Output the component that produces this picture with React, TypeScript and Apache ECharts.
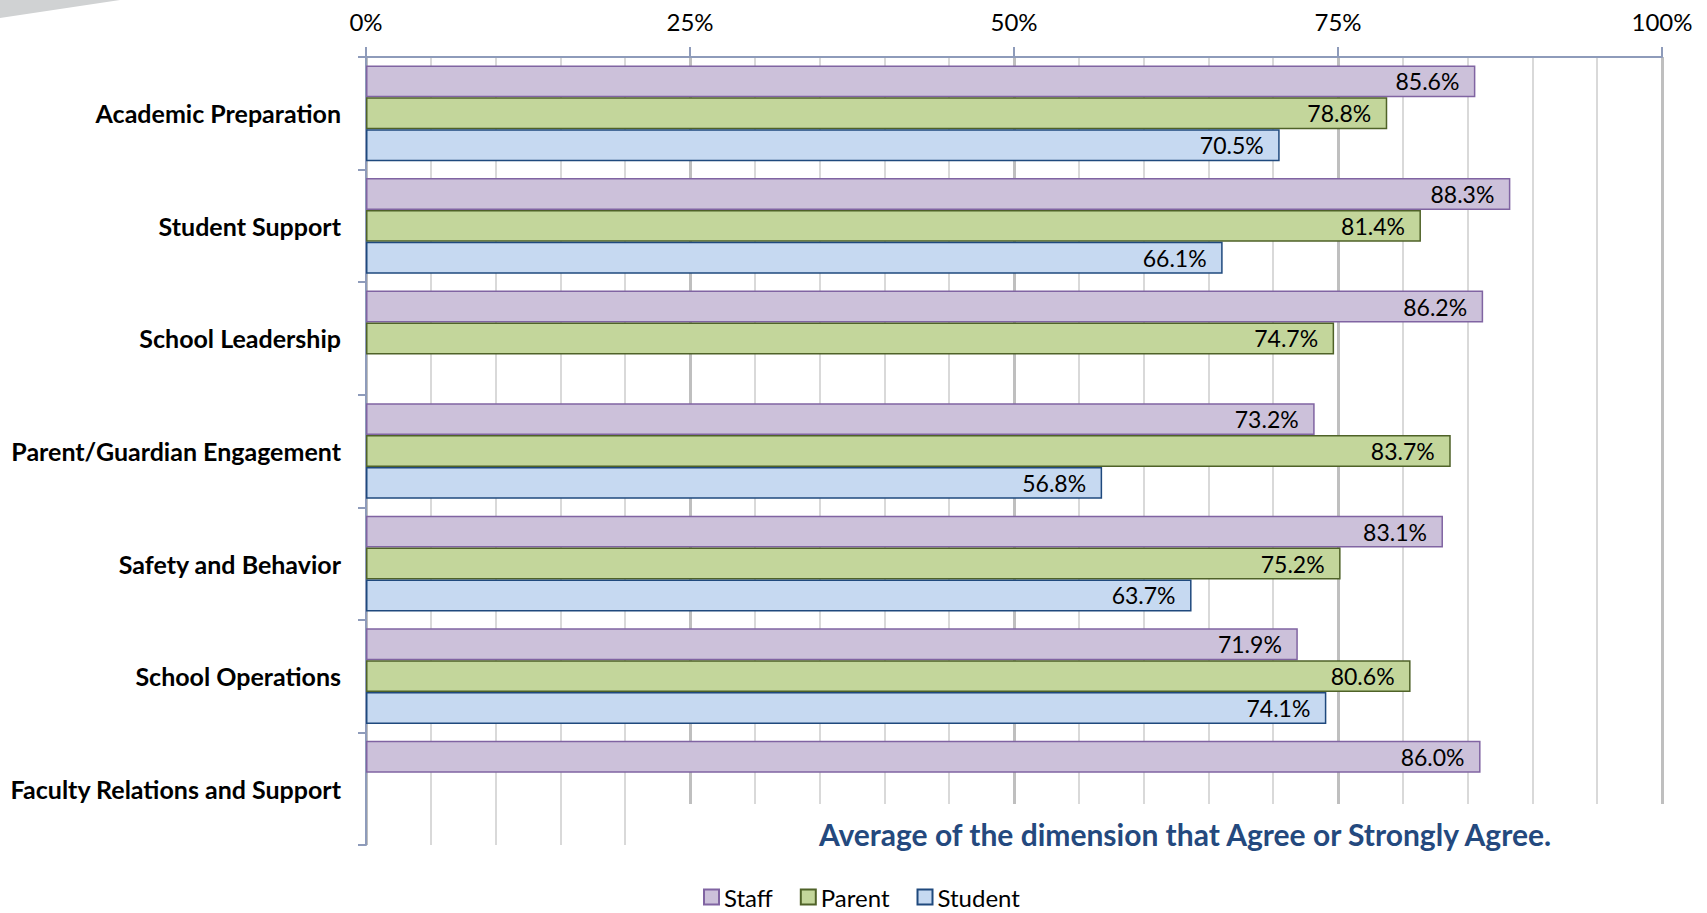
import React, { useEffect, useRef } from "react";
import * as echarts from "echarts";

const categories = [
  "Academic Preparation",
  "Student Support",
  "School Leadership",
  "Parent/Guardian Engagement",
  "Safety and Behavior",
  "School Operations",
  "Faculty Relations and Support",
];
const staffValues: (number | null)[] = [85.6, 88.3, 86.2, 73.2, 83.1, 71.9, 86.0];
const parentValues: (number | null)[] = [78.8, 81.4, 74.7, 83.7, 75.2, 80.6, null];
const studentValues: (number | null)[] = [70.5, 66.1, null, 56.8, 63.7, 74.1, null];
const seriesNames = ["Staff", "Parent", "Student"];
const subtitle = "Average of the dimension that Agree or Strongly Agree.";

const FONT = "Lato, 'Open Sans', sans-serif";

export default function App() {
  const ref = useRef<HTMLDivElement>(null);
  useEffect(() => {
    if (!ref.current) return;
    const chart = echarts.init(ref.current, undefined, { renderer: "svg" });
    const fills = ["#CCC1DA", "#C3D69B", "#C6D9F1"];
    const borders = ["#8064A2", "#4F6228", "#1F497D"];
    const datasets = [staffValues, parentValues, studentValues];
    const axisColor = "#8E9BBA";
    chart.setOption({
      animation: false,
      textStyle: { fontFamily: FONT },
      grid: { left: 366, right: 45, top: 57, bottom: 68, containLabel: false },
      legend: {
        data: seriesNames,
        left: 703,
        top: 884,
        padding: 0,
        itemWidth: 15,
        itemHeight: 15,
        itemGap: 27,
        icon: "rect",
        textStyle: { fontSize: 24, lineHeight: 26, color: "#000", fontFamily: FONT },
      },
      xAxis: {
        type: "value",
        position: "top",
        min: 0,
        max: 100,
        interval: 25,
        axisLine: { show: true, lineStyle: { color: axisColor, width: 2 } },
        axisTick: { show: true, length: 10, lineStyle: { color: axisColor, width: 2 } },
        axisLabel: {
          formatter: "{value}%",
          fontSize: 24,
          color: "#000",
          margin: 24,
          fontFamily: FONT,
        },
        splitLine: { show: true, lineStyle: { color: "#BFBFBF", width: 3 } },
        minorTick: { show: false, splitNumber: 5 },
        minorSplitLine: { show: true, lineStyle: { color: "#D9D9D9", width: 2 } },
      },
      yAxis: {
        type: "category",
        data: categories,
        inverse: true,
        axisLine: { show: true, lineStyle: { color: axisColor, width: 2 } },
        axisTick: { show: true, length: 8, lineStyle: { color: axisColor, width: 2 } },
        axisLabel: {
          fontSize: 25,
          fontWeight: "bold",
          color: "#000",
          margin: 25,
          fontFamily: FONT,
          padding: [0, 0, 3, 0],
        },
      },
      graphic: [
        {
          type: "polygon",
          shape: { points: [[0, 0], [120, 0], [0, 18]] },
          style: { fill: "#D0D2D3" },
          z: 10,
        },
        {
          type: "rect",
          shape: { x: 660, y: 804, width: 1047, height: 60 },
          style: { fill: "#FFFFFF" },
          z: 10,
        },
        {
          type: "text",
          x: 1185,
          y: 834,
          z: 11,
          style: {
            text: subtitle,
            fill: "#24497E",
            font: `bold 30px ${FONT}`,
            textAlign: "center",
            textVerticalAlign: "middle",
          },
        },
      ],
      series: seriesNames.map((name, i) => ({
        name,
        type: "bar",
        data: datasets[i],
        barGap: "0%",
        barCategoryGap: "15%",
        itemStyle: { color: fills[i], borderColor: borders[i], borderWidth: 1.5 },
        label: {
          show: true,
          position: "insideRight",
          distance: 16,
          formatter: (p: any) => Number(p.value).toFixed(1) + "%",
          fontSize: 23,
          color: "#000",
          fontFamily: FONT,
        },
      })),
    });
    return () => chart.dispose();
  }, []);
  return (
    <div
      ref={ref}
      style={{ position: "fixed", left: 0, top: 0, width: 1707, height: 913, background: "#fff" }}
    />
  );
}
